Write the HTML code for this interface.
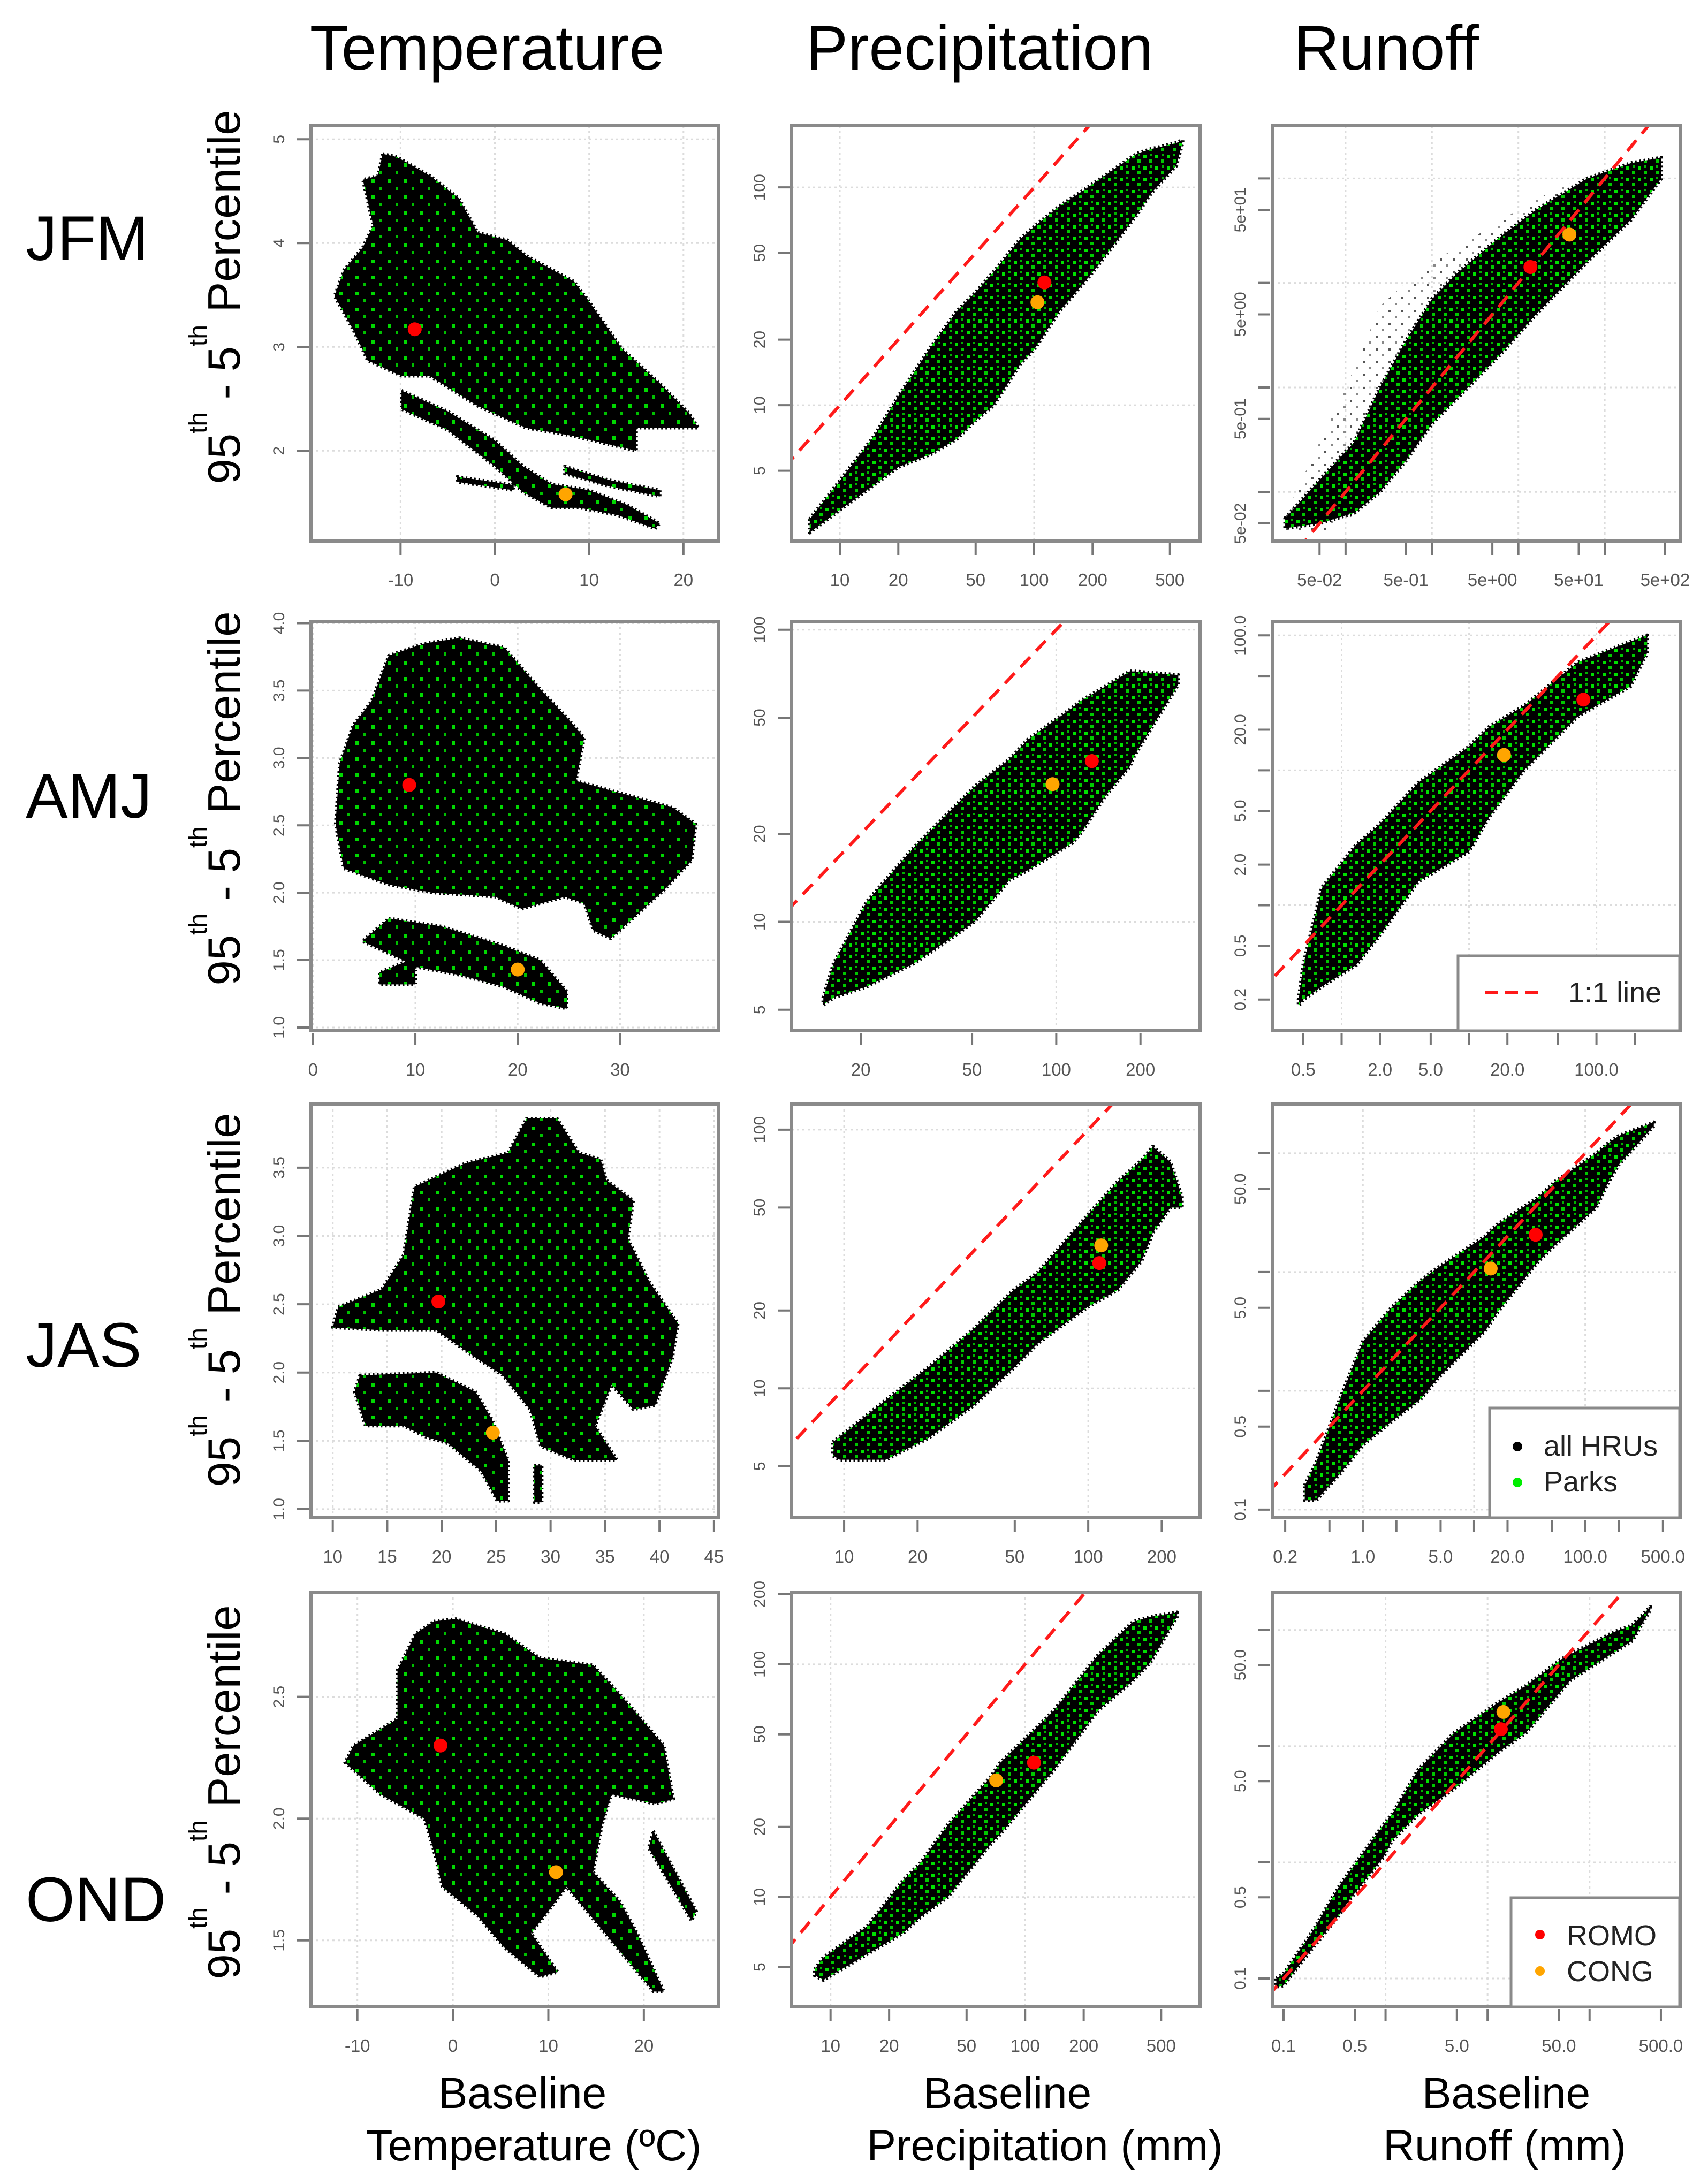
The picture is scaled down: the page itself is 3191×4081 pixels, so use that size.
<!DOCTYPE html>
<html><head><meta charset="utf-8"><title>Seasonal extremes vs baseline</title>
<style>
html,body{margin:0;padding:0;background:#fff;}
svg{display:block;}
text{font-family:"Liberation Sans",Arial,sans-serif;}
</style></head>
<body>
<svg id="fig" xmlns="http://www.w3.org/2000/svg" width="3191" height="4081" viewBox="0 0 3191 4081">
<defs>
<pattern id="greenDots" width="22" height="22" patternUnits="userSpaceOnUse">
<rect x="2" y="3" width="6" height="6" fill="#00e000"/>
<rect x="13" y="12" width="6" height="6" fill="#00c800"/>
<rect x="14" y="1" width="4" height="4" fill="#00b000"/>
</pattern>
<pattern id="greenSparse" width="30" height="30" patternUnits="userSpaceOnUse">
<rect x="4" y="5" width="6" height="7" fill="#00d800"/>
<rect x="19" y="19" width="5" height="6" fill="#00c000"/>
</pattern>
<pattern id="haloDots" width="24" height="24" patternUnits="userSpaceOnUse">
<rect x="2" y="3" width="4" height="4" fill="#555"/>
<rect x="14" y="14" width="4" height="4" fill="#888"/>
</pattern>
</defs>
<rect x="0" y="0" width="3191" height="4081" fill="#fff"/>
<text x="910" y="130" font-size="118" text-anchor="middle">Temperature</text>
<text x="1830" y="130" font-size="118" text-anchor="middle">Precipitation</text>
<text x="2590" y="130" font-size="118" text-anchor="middle">Runoff</text>
<text x="48" y="486" font-size="118">JFM</text>
<text x="48" y="1528" font-size="118">AMJ</text>
<text x="48" y="2554" font-size="118">JAS</text>
<text x="48" y="3590" font-size="118">OND</text>
<text x="976" y="3939" font-size="82" text-anchor="middle">Baseline</text>
<text x="997" y="4037" font-size="82" text-anchor="middle">Temperature  (ºC)</text>
<text x="1882" y="3939" font-size="82" text-anchor="middle">Baseline</text>
<text x="1952" y="4037" font-size="82" text-anchor="middle">Precipitation (mm)</text>
<text x="2814" y="3939" font-size="82" text-anchor="middle">Baseline</text>
<text x="2811" y="4037" font-size="82" text-anchor="middle">Runoff  (mm)</text>
<g id="panels"></g>
</svg>
<script>
// ---------- data: ROMO / CONG points (panel order r1c1..r4c3) ----------
const romoX = [-8.5, 113, 13.8, 9.4, 134, 79, 19.7, 111, 35.8, -1.3, 111, 13.5];
const romoY = [3.17, 36.6, 14.2, 2.80, 35.5, 33.4, 2.52, 30.5, 20.6, 2.30, 37.8, 14];
const congX = [7.5, 104, 39, 20, 97, 18.8, 24.7, 113, 14.1, 10.8, 71, 14.3];
const congY = [1.58, 29.7, 29, 1.43, 29.6, 13, 1.56, 35.7, 10.7, 1.78, 31.7, 19.7];

// ---------- Temperature clouds (polygon outlines, data units) ----------
const jfmTempMainX = [-11.9,-10.4,-6.9,-3.8,-1.8,1.3,3.3,8.4,9.9,13.5,17.5,20.6,21.6,15.0,15.0,8.4,3.3,-1.8,-6.9,-9.9,-13.5,-15.0,-17.0,-16.0,-14.0,-12.9,-14.0,-12.4];
const jfmTempMainY = [4.86,4.83,4.65,4.43,4.10,4.03,3.88,3.63,3.45,2.98,2.65,2.36,2.22,2.22,2.0,2.14,2.22,2.43,2.72,2.72,2.87,3.16,3.49,3.74,3.96,4.17,4.61,4.65];
const jfmTempLowX = [-9.9,-5,0,3,6,10,14,17.5,17,13,9,6,3,0,-5,-9.9];
const jfmTempLowY = [2.58,2.38,2.1,1.85,1.68,1.62,1.48,1.3,1.25,1.38,1.45,1.45,1.6,1.85,2.2,2.4];
const jfmTempTailX = [-4,2,2,-4];
const jfmTempTailY = [1.75,1.67,1.62,1.70];
const jfmTempStreakX = [7.4,12,17.5,17.5,12,7.4];
const jfmTempStreakY = [1.85,1.72,1.62,1.56,1.66,1.78];

const amjTempMainX = [14.3,18.7,22.2,24.8,26.5,25.7,30,35.2,37.4,37,34.3,31.7,29.1,27.4,26.5,24.6,20.4,17.8,11.7,7.4,3,2.2,2.6,3.9,5.7,7.4,10.9];
const amjTempMainY = [3.89,3.82,3.51,3.30,3.15,2.83,2.74,2.63,2.51,2.24,2.02,1.84,1.66,1.72,1.92,1.97,1.88,1.97,2.0,2.06,2.18,2.51,2.96,3.24,3.42,3.76,3.85];
const amjTempLowX = [7.4,12.6,18.5,22.2,24.8,24.8,22.2,18.7,14.3,10,10,6.5,6.5,9.1,4.8];
const amjTempLowY = [1.81,1.75,1.61,1.5,1.27,1.14,1.18,1.30,1.39,1.45,1.32,1.32,1.41,1.49,1.64];

const jasTempMainX = [27.8,30.6,32.6,34.6,35.1,37.6,37.1,39.1,41.7,41.2,39.6,37.6,35.6,34.1,36.1,32.1,29.1,28.1,25.6,23.1,19.5,14.5,10,10.5,14.5,16.5,17.5,22.1,26.1];
const jasTempMainY = [3.86,3.86,3.61,3.56,3.41,3.26,2.98,2.66,2.36,2.11,1.76,1.73,1.91,1.61,1.36,1.36,1.46,1.73,1.98,2.11,2.31,2.31,2.33,2.48,2.61,2.86,3.36,3.53,3.61];
const jasTempLowX = [12.5,19.5,23.1,24.6,26.1,26.1,25.1,23.6,20.6,18.5,16.5,13,12];
const jasTempLowY = [1.98,2.0,1.86,1.66,1.36,1.06,1.06,1.28,1.48,1.53,1.61,1.61,1.86];
const jasTempLineX = [28.5,29.2,29.2,28.5];
const jasTempLineY = [1.32,1.32,1.05,1.05];

const ondTempMainX = [-2,0.3,5.4,9.1,14.7,17.5,19.3,22.1,23.1,21.2,16.6,15.6,14.7,17.5,19.3,22.1,21,11.9,10,8.2,11,9.1,5.4,2.6,-1.1,-2,-3,-7.6,-11.3,-10.4,-5.8,-5.8,-3.9];
const ondTempMainY = [2.81,2.82,2.76,2.66,2.63,2.51,2.43,2.30,2.08,2.06,2.10,1.97,1.78,1.66,1.53,1.29,1.29,1.72,1.62,1.53,1.37,1.35,1.47,1.6,1.72,1.87,2.0,2.1,2.23,2.30,2.41,2.61,2.76];
const ondTempStreakX = [21,25.5,25,20.5];
const ondTempStreakY = [1.95,1.62,1.58,1.88];

// ---------- Precipitation / Runoff clouds (bands: x, upper y, lower y) ----------
const jfmPrecX  = [7,10,15,20,30,40,50,62,85,100,135,183,214,338,400,540,580];
const jfmPrecHi = [3.0,4.5,7.2,11,19,27,33,41,58,66,82,98,108,143,150,160,165];
const jfmPrecLo = [2.6,3.3,4.3,5.2,6.0,7,8.5,10,15.5,18,27,37,44,75,94,126,160];

const jfmRunX  = [0.02,0.05,0.126,0.25,0.5,1,2,6.3,16,63,200,450];
const jfmRunHi = [0.056,0.13,0.3,1,2.8,7,12.6,28,50,100,140,158];
const jfmRunLo = [0.045,0.05,0.063,0.1,0.2,0.45,0.8,2.1,5,16,40,100];
const jfmRunHaloX  = [0.02,0.05,0.126,0.25,0.5,1,2,6.3,16,40];
const jfmRunHaloHi = [0.06,0.3,1.5,6,10,16,22,40,63,90];
const jfmRunHaloLo = [0.04,0.04,0.06,0.1,0.2,0.45,0.8,2.1,5,10];

const amjPrecX  = [14.7,16,21,31,40,51,68,79,114,122,150,183,190,273];
const amjPrecHi = [5.5,7.2,11.7,18,23,29,36,42,54,57,64,72,72,70];
const amjPrecLo = [5.2,5.5,6.0,7.2,8.5,10,13.9,15,18.6,20,27,34,37,65];

const amjRunX  = [0.46,0.5,0.7,1.3,2,4,10,14.4,27,71,185,250];
const amjRunHi = [0.2,0.36,1.35,2.8,4,8.1,15,21,30,63,90,100];
const amjRunLo = [0.18,0.2,0.25,0.36,0.6,1.5,2.5,4.5,10,25,42,74];

const jasPrecX  = [9,9.6,14.8,22,34,49.5,62,100,132,165,184,217,242];
const jasPrecHi = [6.2,6.5,9,12,17,24,28,47,63,76,86,75,55];
const jasPrecLo = [5.5,5.3,5.3,6.4,8.6,12,14.9,20.7,24,31,40,50,50];

const jasRunX  = [0.3,0.38,0.62,1,1.8,3.3,4.8,12.6,16,37,54,126,158,200,414];
const jasRunHi = [0.16,0.25,0.85,2.6,5,8.5,11,20,25,42,58,100,120,140,182];
const jasRunLo = [0.12,0.12,0.2,0.35,0.55,0.85,1.3,3.2,4.5,12,17,35,55,80,170];

const ondPrecX  = [8.3,9.2,15.5,23.6,29,40,67,74,140,236,358,441,603];
const ondPrecHi = [4.9,5.5,7.5,11.8,14,20.4,33,37.5,63,109,152,160,167];
const ondPrecLo = [4.6,4.4,5.7,7,8.2,10,17,18.5,35,63,85,102,160];

const ondRunX  = [0.085,0.1,0.19,0.35,0.43,0.95,1.16,2.1,4.7,13,23.7,53,65,178,263,394];
const ondRunHi = [0.1,0.11,0.25,0.62,0.8,2.1,2.6,6.3,13,24,33,56,62,97,110,158];
const ondRunLo = [0.085,0.087,0.18,0.35,0.46,1.1,1.54,2.6,4.3,9,13,30,37,65,81,150];

// ---------- Tick values & labels ----------
const tempJfmXTicks = [-10,0,10,20];
const tempJfmYTicks = [2,3,4,5];
const tempAmjXTicks = [0,10,20,30];
const tempAmjYTicks = [1.0,1.5,2.0,2.5,3.0,3.5,4.0];
const tempJasXTicks = [10,15,20,25,30,35,40,45];
const tempJasYTicks = [1.0,1.5,2.0,2.5,3.0,3.5];
const tempOndXTicks = [-10,0,10,20];
const tempOndYTicks = [1.5,2.0,2.5];

const precJfmXTicks = [10,20,50,100,200,500];
const precJfmYTicks = [5,10,20,50,100];
const precAmjXTicks = [20,50,100,200];
const precAmjYTicks = [5,10,20,50,100];
const precJasXTicks = [10,20,50,100,200];
const precJasYTicks = [5,10,20,50,100];
const precOndXTicks = [10,20,50,100,200,500];
const precOndYTicks = [5,10,20,50,100,200];

const runJfmXTicks = [0.05,0.1,0.5,1,5,10,50,100,500];
const runJfmXLabels = ['5e-02','','5e-01','','5e+00','','5e+01','','5e+02'];
const runJfmYTicks = [0.05,0.1,0.5,1,5,10,50,100];
const runJfmYLabels = ['5e-02','','5e-01','','5e+00','','5e+01',''];
const runAmjXTicks = [0.5,1,2,5,10,20,50,100,200];
const runAmjXLabels = ['0.5','','2.0','5.0','','20.0','','100.0',''];
const runAmjYTicks = [0.2,0.5,1,2,5,10,20,50,100];
const runAmjYLabels = ['0.2','0.5','','2.0','5.0','','20.0','','100.0'];
const runJasXTicks = [0.2,0.5,1,2,5,10,20,50,100,200,500];
const runJasXLabels = ['0.2','','1.0','','5.0','','20.0','','100.0','','500.0'];
const runJasYTicks = [0.1,0.5,1,5,10,50,100];
const runJasYLabels = ['0.1','0.5','','5.0','','50.0',''];
const runOndXTicks = [0.1,0.5,1,5,10,50,100,500];
const runOndXLabels = ['0.1','0.5','','5.0','','50.0','','500.0'];
const runOndYTicks = [0.1,0.5,1,5,10,50,100];
const runOndYLabels = ['0.1','0.5','','5.0','','50.0',''];

// ---------- layout (pixel geometry, not data) ----------
const colX = [[581,1342],[1479,2242],[2377,3139]];
const rowY = [[235,1011],[1162,1926],[2063,2836],[2975,3750]];
const yTitleCenter = [555,1492,2429,3349];
const fmt1 = v => v.toFixed(1);
const fmt0 = v => String(v);

const panels = [
 {id:'jfm-temperature', r:0,c:0, xlog:false, xd:[-19.5,23.7], yd:[1.13,5.13], xt:tempJfmXTicks, yt:tempJfmYTicks, xl:tempJfmXTicks.map(fmt0), yl:tempJfmYTicks.map(fmt0), xg:tempJfmXTicks, yg:tempJfmYTicks,
  polys:[[jfmTempMainX,jfmTempMainY],[jfmTempLowX,jfmTempLowY],[jfmTempTailX,jfmTempTailY],[jfmTempStreakX,jfmTempStreakY]]},
 {id:'jfm-precipitation', r:0,c:1, xlog:true, xd:[0.752,2.854], yd:[0.376,2.283], xt:precJfmXTicks, yt:precJfmYTicks, xl:precJfmXTicks.map(fmt0), yl:precJfmYTicks.map(fmt0), xg:[10,100], yg:[10,100], one:true,
  bands:[[jfmPrecX,jfmPrecHi,jfmPrecLo]]},
 {id:'jfm-runoff', r:0,c:2, xlog:true, xd:[-1.848,2.873], yd:[-1.470,2.504], xt:runJfmXTicks, yt:runJfmYTicks, xl:runJfmXLabels, yl:runJfmYLabels, xg:[0.1,1,10,100], yg:[0.1,1,10,100], one:true,
  halos:[[jfmRunHaloX,jfmRunHaloHi,jfmRunHaloLo]], bands:[[jfmRunX,jfmRunHi,jfmRunLo]]},
 {id:'amj-temperature', r:1,c:0, xlog:false, xd:[-0.2,39.6], yd:[0.976,4.01], xt:tempAmjXTicks, yt:tempAmjYTicks, xl:tempAmjXTicks.map(fmt0), yl:tempAmjYTicks.map(fmt1), xg:tempAmjXTicks, yg:tempAmjYTicks,
  polys:[[amjTempMainX,amjTempMainY],[amjTempLowX,amjTempLowY]]},
 {id:'amj-precipitation', r:1,c:1, xlog:true, xd:[1.054,2.514], yd:[0.627,2.027], xt:precAmjXTicks, yt:precAmjYTicks, xl:precAmjXTicks.map(fmt0), yl:precAmjYTicks.map(fmt0), xg:[100], yg:[10,100], one:true,
  bands:[[amjPrecX,amjPrecHi,amjPrecLo]]},
 {id:'amj-runoff', r:1,c:2, xlog:true, xd:[-0.544,2.657], yd:[-0.93,2.1], xt:runAmjXTicks, yt:runAmjYTicks, xl:runAmjXLabels, yl:runAmjYLabels, xg:[1,10,100], yg:[1,10,100], one:true,
  bands:[[amjRunX,amjRunHi,amjRunLo]], legend:'line'},
 {id:'jas-temperature', r:2,c:0, xlog:false, xd:[8.0,45.4], yd:[0.937,3.966], xt:tempJasXTicks, yt:tempJasYTicks, xl:tempJasXTicks.map(fmt0), yl:tempJasYTicks.map(fmt1), xg:tempJasXTicks, yg:tempJasYTicks,
  polys:[[jasTempMainX,jasTempMainY],[jasTempLowX,jasTempLowY],[jasTempLineX,jasTempLineY]]},
 {id:'jas-precipitation', r:2,c:1, xlog:true, xd:[0.785,2.458], yd:[0.50,2.099], xt:precJasXTicks, yt:precJasYTicks, xl:precJasXTicks.map(fmt0), yl:precJasYTicks.map(fmt0), xg:[10,100], yg:[10,100], one:true,
  bands:[[jasPrecX,jasPrecHi,jasPrecLo]]},
 {id:'jas-runoff', r:2,c:2, xlog:true, xd:[-0.815,2.854], yd:[-1.068,2.414], xt:runJasXTicks, yt:runJasYTicks, xl:runJasXLabels, yl:runJasYLabels, xg:[1,10,100], yg:[0.1,1,10,100], one:true,
  bands:[[jasRunX,jasRunHi,jasRunLo]], legend:'hru'},
 {id:'ond-temperature', r:3,c:0, xlog:false, xd:[-14.86,27.8], yd:[1.227,2.93], xt:tempOndXTicks, yt:tempOndYTicks, xl:tempOndXTicks.map(fmt0), yl:tempOndYTicks.map(fmt1), xg:tempOndXTicks, yg:tempOndYTicks,
  polys:[[ondTempMainX,ondTempMainY],[ondTempStreakX,ondTempStreakY]]},
 {id:'ond-precipitation', r:3,c:1, xlog:true, xd:[0.8,2.899], yd:[0.528,2.31], xt:precOndXTicks, yt:precOndYTicks, xl:precOndXTicks.map(fmt0), yl:precOndYTicks.map(fmt0), xg:[10,100], yg:[10,100], one:true,
  bands:[[ondPrecX,ondPrecHi,ondPrecLo]]},
 {id:'ond-runoff', r:3,c:2, xlog:true, xd:[-1.11,2.888], yd:[-1.244,2.326], xt:runOndXTicks, yt:runOndYTicks, xl:runOndXLabels, yl:runOndYLabels, xg:[1,10,100], yg:[0.1,1,10,100], one:true,
  bands:[[ondRunX,ondRunHi,ondRunLo]], legend:'site'}
];

const NS = 'http://www.w3.org/2000/svg';
function mk(tag, attrs, parent){
  const e = document.createElementNS(NS, tag);
  for (const k in attrs) e.setAttribute(k, attrs[k]);
  parent.appendChild(e);
  return e;
}
const root = document.getElementById('panels');

panels.forEach((p, i) => {
  const x0 = colX[p.c][0], x1 = colX[p.c][1], y0 = rowY[p.r][0], y1 = rowY[p.r][1];
  const tx = v => p.xlog ? Math.log10(v) : v;
  const ty = v => p.xlog ? Math.log10(v) : v;
  const sx = v => x0 + (tx(v) - p.xd[0]) / (p.xd[1] - p.xd[0]) * (x1 - x0);
  const sy = v => y1 - (ty(v) - p.yd[0]) / (p.yd[1] - p.yd[0]) * (y1 - y0);

  const g = mk('g', {}, root);
  
  

  const cp = mk('clipPath', {id: 'clip' + i}, g);
  mk('rect', {x: x0, y: y0, width: x1 - x0, height: y1 - y0}, cp);
  const plot = mk('g', {'clip-path': 'url(#clip' + i + ')'}, g);
  
  

  p.xg.forEach(v => {
    const gl = mk('line', {x1: sx(v), x2: sx(v), y1: y0, y2: y1, stroke: '#dcdcdc', 'stroke-width': 3, 'stroke-dasharray': '4 6'}, plot);
    
    
  });
  p.yg.forEach(v => {
    const gl = mk('line', {x1: x0, x2: x1, y1: sy(v), y2: sy(v), stroke: '#dcdcdc', 'stroke-width': 3, 'stroke-dasharray': '4 6'}, plot);
    
    
  });

  (p.halos || []).forEach(b => {
    const [bx, hi, lo] = b;
    const pts = bx.map((x, k) => sx(x) + ',' + sy(hi[k])).concat(bx.map((x, k) => sx(x) + ',' + sy(lo[k])).reverse()).join(' ');
    const h = mk('polygon', {points: pts, fill: 'url(#haloDots)'}, plot);
    
    
  });

  (p.polys || []).forEach(pl => {
    const [xs, ys] = pl;
    const pts = xs.map((x, k) => sx(x) + ',' + sy(ys[k])).join(' ');
    const c = mk('polygon', {points: pts, fill: '#000', stroke: '#000', 'stroke-width': 6, 'stroke-dasharray': '3 5', 'stroke-linejoin': 'round'}, plot);
    
    
    const gp = mk('polygon', {points: pts, fill: 'url(#greenSparse)'}, plot);
    
    
  });

  (p.bands || []).forEach(b => {
    const [bx, hi, lo] = b;
    const pts = bx.map((x, k) => sx(x) + ',' + sy(hi[k])).concat(bx.map((x, k) => sx(x) + ',' + sy(lo[k])).reverse()).join(' ');
    const c = mk('polygon', {points: pts, fill: '#000', stroke: '#000', 'stroke-width': 7, 'stroke-dasharray': '3 5', 'stroke-linejoin': 'round'}, plot);
    
    
    const gp = mk('polygon', {points: pts, fill: 'url(#greenDots)'}, plot);
    
    
  });

  if (p.one) {
    const lo = Math.pow(10, Math.min(p.xd[0], p.yd[0]) - 0.2), hi = Math.pow(10, Math.max(p.xd[1], p.yd[1]) + 0.2);
    const l = mk('line', {x1: sx(lo), y1: sy(lo), x2: sx(hi), y2: sy(hi), stroke: '#ff1a1a', 'stroke-width': 6, 'stroke-dasharray': '26 16'}, plot);
    
    
  }

  const rp = mk('circle', {cx: sx(romoX[i]), cy: sy(romoY[i]), r: 13, fill: '#ff0000'}, plot);
  
  
  const cg = mk('circle', {cx: sx(congX[i]), cy: sy(congY[i]), r: 13, fill: '#ffa500'}, plot);
  
  

  const box = mk('rect', {x: x0, y: y0, width: x1 - x0, height: y1 - y0, fill: 'none', stroke: '#8a8a8a', 'stroke-width': 6}, g);
  
  

  p.xt.forEach((v, k) => {
    const X = sx(v);
    const t = mk('line', {x1: X, x2: X, y1: y1 + 4, y2: y1 + 26, stroke: '#777', 'stroke-width': 4}, g);
    
    
    if (p.xl[k]) {
      const tl = mk('text', {x: X, y: y1 + 84, 'font-size': 33, fill: '#555', 'text-anchor': 'middle'}, g);
      tl.textContent = p.xl[k];
      
      
    }
  });
  p.yt.forEach((v, k) => {
    const Y = sy(v);
    const t = mk('line', {x1: x0 - 26, x2: x0 - 4, y1: Y, y2: Y, stroke: '#777', 'stroke-width': 4}, g);
    
    
    if (p.yl[k]) {
      const tl = mk('text', {x: x0 - 50, y: Y, 'font-size': 30, fill: '#555', 'text-anchor': 'middle', transform: 'rotate(-90 ' + (x0 - 50) + ' ' + Y + ')'}, g);
      tl.textContent = p.yl[k];
      
      
    }
  });

  if (p.c === 0) {
    const cy = yTitleCenter[p.r];
    const yt = mk('text', {x: 448, y: cy, 'font-size': 85, 'text-anchor': 'middle', transform: 'rotate(-90 448 ' + cy + ')'}, g);
    
    
    const parts = [['95', 0, 85], ['th', -62, 48], [' - 5', 62, 85], ['th', -62, 48], ['  Percentile', 62, 85]];
    parts.forEach(pt => {
      const s = mk('tspan', {dy: pt[1], 'font-size': pt[2]}, yt);
      s.textContent = pt[0];
    });
  }

  if (p.legend === 'line') {
    const lg = mk('g', {}, g);
    
    
    mk('rect', {x: 2724, y: 1786, width: 414, height: 140, fill: '#fff', stroke: '#8a8a8a', 'stroke-width': 5}, lg);
    mk('line', {x1: 2774, x2: 2884, y1: 1855, y2: 1855, stroke: '#ff1a1a', 'stroke-width': 6, 'stroke-dasharray': '24 14'}, lg);
    const t = mk('text', {x: 2930, y: 1873, 'font-size': 54, fill: '#222'}, lg);
    t.textContent = '1:1 line';
  }
  if (p.legend === 'hru') {
    const lg = mk('g', {}, g);
    
    
    mk('rect', {x: 2783, y: 2631, width: 355, height: 205, fill: '#fff', stroke: '#8a8a8a', 'stroke-width': 5}, lg);
    mk('circle', {cx: 2835, cy: 2703, r: 9, fill: '#000'}, lg);
    mk('circle', {cx: 2835, cy: 2770, r: 9, fill: '#00ee00'}, lg);
    const t1 = mk('text', {x: 2884, y: 2720, 'font-size': 54, fill: '#222'}, lg);
    t1.textContent = 'all HRUs';
    const t2 = mk('text', {x: 2884, y: 2787, 'font-size': 54, fill: '#222'}, lg);
    t2.textContent = 'Parks';
  }
  if (p.legend === 'site') {
    const lg = mk('g', {}, g);
    
    
    mk('rect', {x: 2823, y: 3546, width: 315, height: 204, fill: '#fff', stroke: '#8a8a8a', 'stroke-width': 5}, lg);
    mk('circle', {cx: 2877, cy: 3615, r: 9, fill: '#ff0000'}, lg);
    mk('circle', {cx: 2877, cy: 3683, r: 9, fill: '#ffa500'}, lg);
    const t1 = mk('text', {x: 2927, y: 3635, 'font-size': 54, fill: '#222'}, lg);
    t1.textContent = 'ROMO';
    const t2 = mk('text', {x: 2927, y: 3702, 'font-size': 54, fill: '#222'}, lg);
    t2.textContent = 'CONG';
  }
});
</script>
</body></html>
